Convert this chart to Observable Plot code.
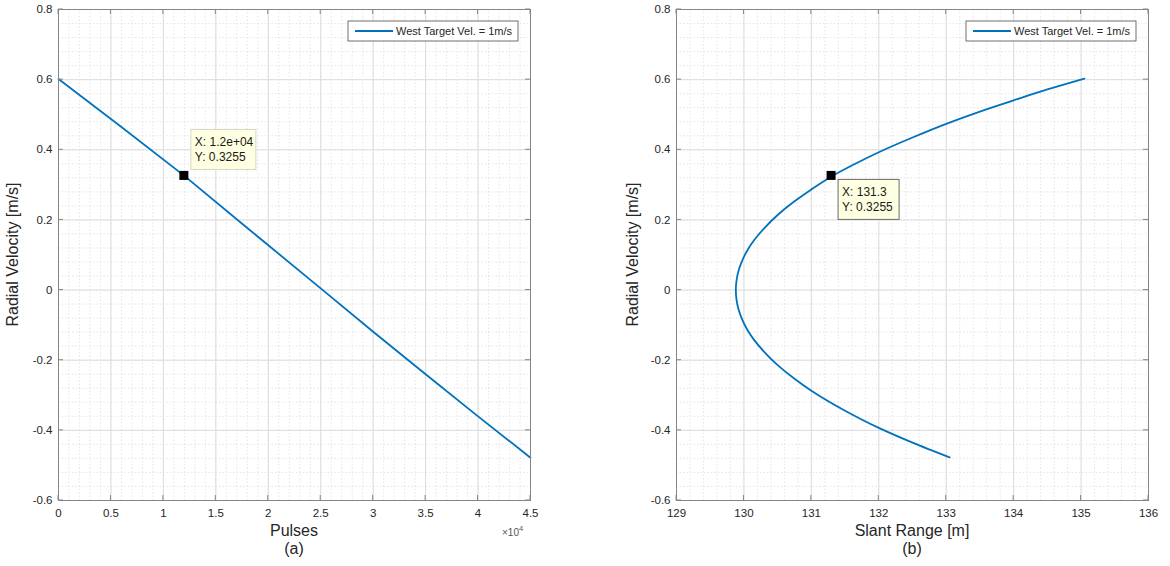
<!DOCTYPE html>
<html>
<head>
<meta charset="utf-8">
<script src="https://cdn.jsdelivr.net/npm/d3@7"></script>
<script src="https://cdn.jsdelivr.net/npm/@observablehq/plot@0.6"></script>
<style>
  html, body { margin: 0; padding: 0; background: #fff; }
  #wrap { position: relative; width: 1170px; height: 566px; overflow: hidden; background: #fff; }
  .panel { position: absolute; top: 0; }
</style>
</head>
<body>
<div id="wrap"></div>
<script>
// ---------- data ----------
const yTicks = [-0.6, -0.4, -0.2, 0, 0.2, 0.4, 0.6, 0.8];
const yTickLabels = ["-0.6", "-0.4", "-0.2", "0", "0.2", "0.4", "0.6", "0.8"];

const pulseTicks = [0, 5000, 10000, 15000, 20000, 25000, 30000, 35000, 40000, 45000];
const pulseTickLabels = ["0", "0.5", "1", "1.5", "2", "2.5", "3", "3.5", "4", "4.5"];

const rangeTicks = [129, 130, 131, 132, 133, 134, 135, 136];
const rangeTickLabels = ["129", "130", "131", "132", "133", "134", "135", "136"];

// panel (a): radial velocity vs pulses
const pulses = [0, 6000, 12000, 18000, 25200, 30000, 35000, 40000, 45000];
const velA   = [0.602, 0.465, 0.3255, 0.177, 0, -0.119, -0.240, -0.360, -0.478];

// panel (b): radial velocity vs slant range (in path order)
const rangeB = [135.05, 134.5, 134.0, 133.5, 133.0, 132.5, 132.0, 131.6, 131.3, 131.0, 130.75, 130.5, 130.3, 130.15, 130.05, 129.97, 129.92, 129.89, 129.88,
                129.89, 129.92, 129.97, 130.05, 130.15, 130.3, 130.5, 130.75, 131.0, 131.5, 132.0, 132.5, 133.05];
const velB   = [0.603, 0.572, 0.541, 0.509, 0.474, 0.435, 0.393, 0.355, 0.324, 0.287, 0.253, 0.214, 0.176, 0.142, 0.113, 0.082, 0.055, 0.027, 0,
                -0.027, -0.055, -0.082, -0.113, -0.142, -0.176, -0.214, -0.253, -0.287, -0.344, -0.393, -0.435, -0.477];

const legendLabel = "West Target Vel. = 1m/s";
const tipA = [12000, 0.3255];
const tipALabels = ["X: 1.2e+04", "Y: 0.3255"];
const tipB = [131.3, 0.3255];
const tipBLabels = ["X: 131.3", "Y: 0.3255"];

const xTitleA = "Pulses";
const xTitleB = "Slant Range [m]";
const yTitle = "Radial Velocity [m/s]";
const captionA = "(a)";
const captionB = "(b)";

// ---------- drawing ----------
const FONT = "'Liberation Sans', Arial, Helvetica, sans-serif";
const BLUE = "#0072BD";
const AXIS = "#858585";
const TEXT = "#262626";

function panel(cfg) {
  const data = cfg.xs.map((x, i) => ({x, y: cfg.ys[i]}));
  const plot = Plot.plot({
    width: 585,
    height: 566,
    marginLeft: cfg.ml,
    marginRight: cfg.mr,
    marginTop: 9,
    marginBottom: 66,
    style: {fontFamily: FONT, fontSize: "11.5px", color: TEXT, background: "transparent", overflow: "visible"},
    x: {domain: cfg.xDomain, label: null},
    y: {domain: [-0.6, 0.8], label: null},
    marks: [
      Plot.gridX(cfg.xMinor, {stroke: "#dedede", strokeOpacity: 1, strokeWidth: 0.8, strokeDasharray: "1.5,2"}),
      Plot.gridY(cfg.yMinor, {stroke: "#dedede", strokeOpacity: 1, strokeWidth: 0.8, strokeDasharray: "1.5,2"}),
      Plot.gridX(cfg.xTicks, {stroke: "#dcdcdc", strokeOpacity: 1, strokeWidth: 1}),
      Plot.gridY(yTicks, {stroke: "#dcdcdc", strokeOpacity: 1, strokeWidth: 1}),
      Plot.axisX(cfg.xTicks, {anchor: "bottom", tickSize: 0, tickPadding: 8, label: null,
        tickFormat: d => cfg.xLabels[cfg.xTicks.indexOf(d)], fill: TEXT}),
      Plot.axisY(yTicks, {anchor: "left", tickSize: 0, tickPadding: 6, label: null,
        tickFormat: d => yTickLabels[yTicks.indexOf(d)], fill: TEXT}),
      Plot.line(data, {x: "x", y: "y", stroke: BLUE, strokeWidth: 1.8, curve: cfg.curve}),
      Plot.frame({stroke: AXIS, strokeWidth: 1})
    ]
  });

  const svg = d3.select(plot);
  const sx = plot.scale("x"), sy = plot.scale("y");
  const x0 = sx.apply(cfg.xDomain[0]), x1 = sx.apply(cfg.xDomain[1]);
  const yb = sy.apply(-0.6), yt = sy.apply(0.8);

  // inward ticks on all four sides
  const tg = svg.append("g").attr("stroke", AXIS).attr("stroke-width", 1);
  cfg.xTicks.forEach(t => {
    const px = sx.apply(t);
    tg.append("line").attr("x1", px).attr("x2", px).attr("y1", yb).attr("y2", yb - 5);
    tg.append("line").attr("x1", px).attr("x2", px).attr("y1", yt).attr("y2", yt + 5);
  });
  yTicks.forEach(t => {
    const py = sy.apply(t);
    tg.append("line").attr("x1", x0).attr("x2", x0 + 5).attr("y1", py).attr("y2", py);
    tg.append("line").attr("x1", x1).attr("x2", x1 - 5).attr("y1", py).attr("y2", py);
  });

  // axis titles and caption
  const mid = (x0 + x1) / 2;
  svg.append("text").attr("x", mid).attr("y", yb + 36).attr("text-anchor", "middle")
    .attr("font-family", FONT).attr("font-size", 16).attr("fill", TEXT).text(cfg.xTitle);
  svg.append("text").attr("x", mid).attr("y", yb + 54).attr("text-anchor", "middle")
    .attr("font-family", FONT).attr("font-size", 16).attr("fill", TEXT).text(cfg.caption);
  svg.append("text")
    .attr("transform", `translate(${x0 - cfg.yTitleOffset},${(yb + yt) / 2}) rotate(-90)`)
    .attr("text-anchor", "middle").attr("font-family", FONT).attr("font-size", 16).attr("fill", TEXT)
    .text(yTitle);

  if (cfg.exponent) {
    const e = svg.append("text").attr("x", x1 - 28).attr("y", yb + 36).attr("text-anchor", "start")
      .attr("font-family", FONT).attr("font-size", 10).attr("fill", "#555");
    e.append("tspan").text("\u00d710");
    e.append("tspan").attr("dy", -5).attr("font-size", 7.5).text(cfg.exponent);
  }

  // legend
  const lw = 170, lh = 20;
  const lx = x1 - 12 - lw, ly = yt + 12;
  const lg = svg.append("g");
  lg.append("rect").attr("x", lx).attr("y", ly).attr("width", lw).attr("height", lh)
    .attr("fill", "#fff").attr("stroke", "#4d4d4d").attr("stroke-width", 0.8);
  lg.append("line").attr("x1", lx + 7).attr("x2", lx + 45).attr("y1", ly + lh / 2).attr("y2", ly + lh / 2)
    .attr("stroke", BLUE).attr("stroke-width", 2);
  lg.append("text").attr("x", lx + 48).attr("y", ly + lh / 2 + 4).attr("text-anchor", "start")
    .attr("font-family", FONT).attr("font-size", 11).attr("fill", TEXT).text(legendLabel);

  // data tip
  const mx = sx.apply(cfg.tip[0]), my = sy.apply(cfg.tip[1]);
  const tipG = svg.append("g");
  const bx = mx + 7, by = cfg.tipAbove ? my - 46 : my + 4;
  const bw = cfg.tipW, bh = 40;
  tipG.append("rect").attr("x", bx).attr("y", by).attr("width", bw).attr("height", bh)
    .attr("fill", "#ffffe1").attr("stroke", cfg.tipStroke).attr("stroke-width", 1);
  cfg.tipLabels.forEach((s, i) => {
    tipG.append("text").attr("x", bx + 4).attr("y", by + 17 + i * 15).attr("text-anchor", "start")
      .attr("font-family", FONT).attr("font-size", 12).attr("fill", "#1a1a1a").text(s);
  });
  tipG.append("rect").attr("x", mx - 4.5).attr("y", my - 4.5).attr("width", 9).attr("height", 9).attr("fill", "#000");

  plot.classList.add("panel");
  plot.style.left = cfg.left + "px";
  return plot;
}

const wrap = document.getElementById("wrap");
wrap.appendChild(panel({
  left: 0, ml: 58, mr: 55,
  xDomain: [0, 45000], xTicks: pulseTicks, xLabels: pulseTickLabels,
  xMinor: d3.range(0, 45001, 1000), yMinor: d3.range(-30, 41, 2).map(d => d / 50),
  xs: pulses, ys: velA, curve: "linear",
  xTitle: xTitleA, caption: captionA, yTitleOffset: 40, exponent: "4",
  tip: tipA, tipLabels: tipALabels, tipAbove: true, tipW: 65, tipStroke: "#d6d6c4"
}));
wrap.appendChild(panel({
  left: 585, ml: 91, mr: 22,
  xDomain: [129, 136], xTicks: rangeTicks, xLabels: rangeTickLabels,
  xMinor: d3.range(645, 681, 1).map(d => d / 5), yMinor: d3.range(-30, 41, 2).map(d => d / 50),
  xs: rangeB, ys: velB, curve: "monotone-y",
  xTitle: xTitleB, caption: captionB, yTitleOffset: 38, exponent: null,
  tip: tipB, tipLabels: tipBLabels, tipAbove: false, tipW: 61, tipStroke: "#6b6b6b"
}));
</script>
</body>
</html>
